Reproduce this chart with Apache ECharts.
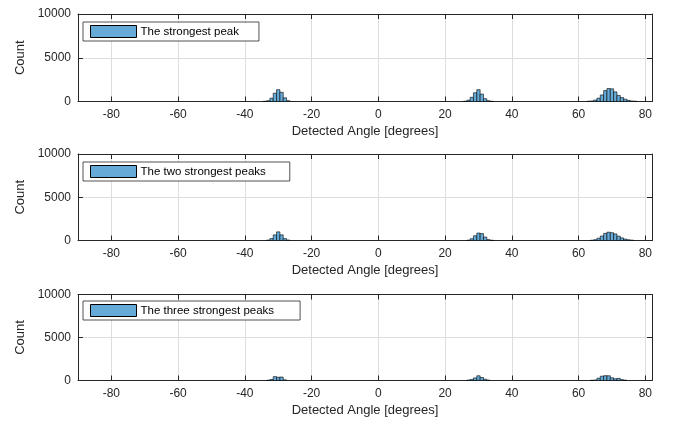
<!DOCTYPE html>
<html>
<head>
<meta charset="utf-8">
<script src="https://cdn.jsdelivr.net/npm/echarts@6/dist/echarts.min.js"></script>
<style>
  html, body { margin: 0; padding: 0; background: #fff; }
  #chart { width: 697px; height: 422px; }
</style>
</head>
<body>
<div id="chart"></div>
<script>
// Histogram bins: [bin centre in degrees, count], bin width 1 degree
const strongestPeak = [
  [-34, 20], [-33, 90], [-32, 380], [-31, 950], [-30, 1350], [-29, 1050], [-28, 420], [-27, 90],
  [26, 30], [27, 150], [28, 480], [29, 1000], [30, 1350], [31, 850], [32, 320], [33, 90], [34, 20],
  [63, 30], [64, 60], [65, 160], [66, 380], [67, 750], [68, 1250], [69, 1480], [70, 1450], [71, 1100],
  [72, 700], [73, 450], [74, 260], [75, 130], [76, 60], [77, 30]
];
const twoStrongestPeaks = [
  [-33, 50], [-32, 220], [-31, 650], [-30, 1000], [-29, 650], [-28, 220], [-27, 50],
  [27, 40], [28, 200], [29, 550], [30, 860], [31, 800], [32, 400], [33, 100], [34, 30],
  [64, 30], [65, 90], [66, 260], [67, 520], [68, 820], [69, 960], [70, 900], [71, 760],
  [72, 500], [73, 300], [74, 160], [75, 80], [76, 40]
];
const threeStrongestPeaks = [
  [-33, 30], [-32, 120], [-31, 450], [-30, 380], [-29, 400], [-28, 80],
  [27, 50], [28, 120], [29, 300], [30, 550], [31, 350], [32, 150], [33, 40],
  [64, 30], [65, 60], [66, 260], [67, 500], [68, 560], [69, 550], [70, 320], [71, 200],
  [72, 250], [73, 100], [74, 40]
];
const seriesNames = ['The strongest peak', 'The two strongest peaks', 'The three strongest peaks'];
const angleTicks = [-80, -60, -40, -20, 0, 20, 40, 60, 80];
const countTicks = [0, 5000, 10000];
const angleRange = [-90, 82];
const countRange = [0, 10000];
const binWidth = 1;

const panels = [strongestPeak, twoStrongestPeaks, threeStrongestPeaks];
const gridBoxes = [
  { top: 14, height: 87.5 },
  { top: 154, height: 86.5 },
  { top: 294.5, height: 86 }
];
const legendBoxes = [
  { top: 22, right: 20 },
  { top: 162, right: 24 },
  { top: 301, right: 26 }
];

const ink = '#262626';
const gridColor = '#dedede';
const barFill = '#66aad7';
const font = 'Liberation Sans, Arial, Helvetica, sans-serif';

const grids = [], xAxes = [], yAxes = [], series = [], legends = [];

panels.forEach((bins, i) => {
  grids.push({ left: 78, width: 574, top: gridBoxes[i].top, height: gridBoxes[i].height });

  // bottom axis with labels and grid lines
  xAxes.push({
    type: 'value', gridIndex: i, position: 'bottom',
    min: angleRange[0], max: angleRange[1],
    name: 'Detected Angle [degrees]', nameLocation: 'middle', nameGap: 23,
    nameTextStyle: { color: ink, fontSize: 13, fontFamily: font },
    axisLine: { show: true, onZero: false, lineStyle: { color: ink, width: 1 } },
    axisTick: { show: true, inside: true, length: 5, lineStyle: { color: ink }, customValues: angleTicks },
    axisLabel: { color: ink, fontSize: 12, fontFamily: font, margin: 7, customValues: angleTicks },
    splitLine: { show: true, lineStyle: { color: gridColor, width: 1 } }
  });
  // top edge of the box
  xAxes.push({
    type: 'value', gridIndex: i, position: 'top',
    min: angleRange[0], max: angleRange[1],
    axisLine: { show: true, onZero: false, lineStyle: { color: ink, width: 1 } },
    axisTick: { show: true, inside: true, length: 5, lineStyle: { color: ink }, customValues: angleTicks },
    axisLabel: { show: false },
    splitLine: { show: false }
  });
  // left axis with labels
  yAxes.push({
    type: 'value', gridIndex: i, position: 'left',
    min: countRange[0], max: countRange[1], interval: 5000,
    name: 'Count', nameLocation: 'middle', nameGap: 45, nameRotate: 90,
    nameTextStyle: { color: ink, fontSize: 13, fontFamily: font },
    axisLine: { show: true, onZero: false, lineStyle: { color: ink, width: 1 } },
    axisTick: { show: true, inside: true, length: 5, lineStyle: { color: ink }, customValues: countTicks },
    axisLabel: { color: ink, fontSize: 12, fontFamily: font, margin: 7, customValues: countTicks,
                 formatter: v => String(v) },
    splitLine: { show: true, lineStyle: { color: gridColor, width: 1 } }
  });
  // right edge of the box
  yAxes.push({
    type: 'value', gridIndex: i, position: 'right',
    min: countRange[0], max: countRange[1], interval: 5000,
    axisLine: { show: true, onZero: false, lineStyle: { color: ink, width: 1 } },
    axisTick: { show: true, inside: true, length: 5, lineStyle: { color: ink }, customValues: countTicks },
    axisLabel: { show: false },
    splitLine: { show: false }
  });

  series.push({
    type: 'custom',
    name: seriesNames[i],
    xAxisIndex: 2 * i,
    yAxisIndex: 2 * i,
    itemStyle: { color: barFill, borderColor: '#000', borderWidth: 0.6 },
    data: bins,
    renderItem: function (params, api) {
      const c = api.value(0), n = api.value(1);
      const topLeft = api.coord([c - binWidth / 2, n]);
      const bottomRight = api.coord([c + binWidth / 2, 0]);
      return {
        type: 'rect',
        shape: {
          x: topLeft[0], y: topLeft[1],
          width: bottomRight[0] - topLeft[0],
          height: bottomRight[1] - topLeft[1]
        },
        style: { fill: barFill, stroke: '#000', lineWidth: 0.6 }
      };
    }
  });

  legends.push({
    data: [seriesNames[i]],
    left: 83, top: legendBoxes[i].top,
    orient: 'vertical',
    icon: 'rect',
    itemWidth: 46, itemHeight: 12,
    padding: [3, legendBoxes[i].right, 3, 7],
    backgroundColor: '#fff',
    borderColor: ink, borderWidth: 0.8, borderRadius: 0,
    selectedMode: false,
    itemStyle: { color: barFill, borderColor: '#000', borderWidth: 1 },
    textStyle: { color: '#000', fontSize: 11.5, fontFamily: font, padding: [0, 0, 0, -1] }
  });
});

const chart = echarts.init(document.getElementById('chart'), null, { renderer: 'canvas' });
chart.setOption({
  animation: false,
  backgroundColor: '#fff',
  grid: grids,
  xAxis: xAxes,
  yAxis: yAxes,
  legend: legends,
  series: series
});
</script>
</body>
</html>
